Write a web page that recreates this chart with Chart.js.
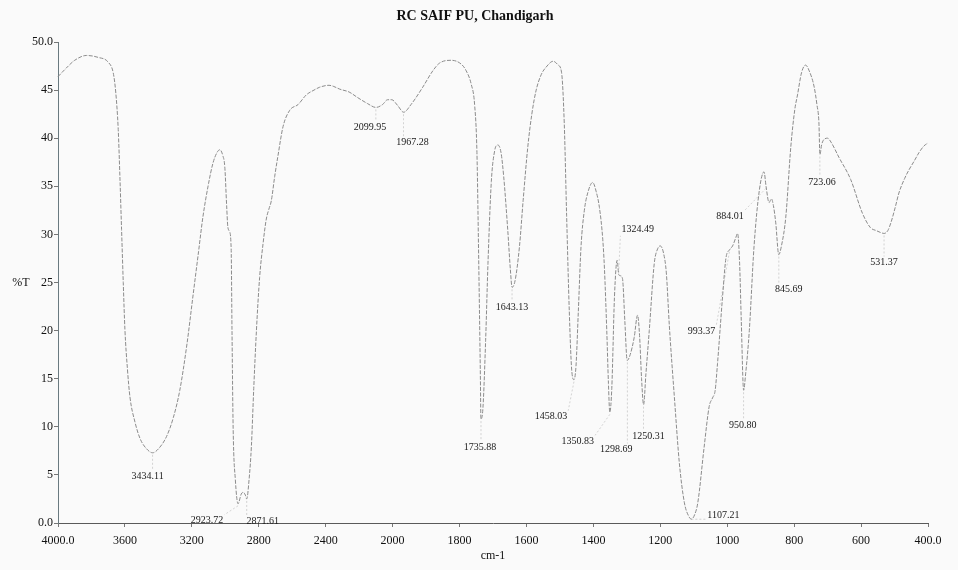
<!DOCTYPE html>
<html>
<head>
<meta charset="utf-8">
<script src="https://cdn.jsdelivr.net/npm/chart.js@4"></script>
<style>
  html, body { margin: 0; padding: 0; background: #fafafa; }
  #wrap { width: 958px; height: 570px; }
</style>
</head>
<body>
<div id="wrap"><canvas id="irChart" width="958" height="570"></canvas></div>
<script>

// spectrum: wavenumber (cm-1) and %T
const wavenumbers = [
    4000, 3950, 3900, 3830, 3760, 3700, 3670, 3655, 3640, 3630, 3620, 3610, 3600, 3585, 3570,
    3540, 3510, 3470, 3434, 3400, 3351, 3310, 3272, 3230, 3194, 3160, 3134, 3100, 3074, 3050,
    3033, 3015, 3003, 2992, 2985, 2975, 2965, 2960, 2953, 2940, 2924, 2905, 2894, 2880, 2872,
    2858, 2844, 2830, 2814, 2795, 2774, 2755, 2740, 2725, 2705, 2685, 2655, 2615, 2565, 2516,
    2470, 2436, 2380, 2355, 2316, 2260, 2207, 2150, 2100, 2060, 2030, 2005, 1985, 1967, 1945,
    1910, 1880, 1860, 1825, 1795, 1780, 1765, 1755, 1748, 1743, 1738, 1736, 1730, 1722, 1715,
    1705, 1695, 1686, 1676, 1668, 1656, 1648, 1643, 1634, 1621, 1610, 1596, 1584, 1571, 1556,
    1541, 1520, 1505, 1495, 1487, 1480, 1472, 1465, 1458, 1452, 1445, 1437, 1427, 1417, 1402,
    1392, 1382, 1372, 1367, 1360, 1355, 1351, 1345, 1337, 1329, 1324, 1319, 1313, 1306, 1299,
    1290, 1278, 1268, 1262, 1256, 1250, 1243, 1233, 1218, 1208, 1200, 1190, 1182, 1173, 1158,
    1143, 1128, 1115, 1107, 1097, 1088, 1069, 1054, 1044, 1036, 1029, 1014, 1004, 993, 984,
    975, 969, 963, 958, 951, 945, 934, 920, 904, 890, 884, 875, 868, 862, 855,
    846, 838, 825, 810, 798, 790, 778, 766, 755, 740, 732, 726, 723, 718, 710,
    700, 690, 666, 631, 596, 572, 555, 542, 531, 520, 511, 498, 487, 470, 457,
    440, 427, 412, 400
];
const transmittance = [
    46.4, 47.3, 48.1, 48.6, 48.4, 47.9, 46.8, 44.8, 40.9, 36.0, 30.5, 25.0, 20.1, 16.0, 13.1,
    10.5, 8.8, 7.7, 7.3, 7.7, 9.0, 11.0, 13.8, 18.5, 23.5, 28.2, 31.8, 35.3, 37.4, 38.5,
    38.8, 38.2, 37.0, 33.0, 30.8, 30.3, 28.5, 20.0, 9.7, 4.5, 2.0, 3.0, 3.2, 2.9, 2.5,
    4.5, 8.0, 14.0, 20.0, 25.5, 29.1, 31.6, 32.6, 33.5, 36.0, 38.2, 41.2, 42.9, 43.5, 44.5,
    45.0, 45.3, 45.5, 45.4, 45.1, 44.8, 44.2, 43.6, 43.2, 43.5, 44.0, 44.0, 43.4, 42.7, 43.5,
    45.3, 47.0, 47.8, 48.1, 47.7, 47.0, 45.6, 43.5, 38.5, 28.0, 16.0, 10.8, 12.0, 19.0, 27.0,
    35.5, 38.7, 39.3, 38.5, 36.0, 30.5, 26.3, 24.5, 25.2, 28.7, 33.5, 39.1, 42.5, 45.0, 46.6,
    47.4, 48.0, 47.6, 46.8, 41.5, 32.0, 22.0, 16.0, 14.9, 16.3, 22.0, 28.7, 32.5, 34.3, 35.4,
    34.5, 32.8, 29.5, 26.5, 20.0, 14.5, 11.5, 14.0, 23.5, 27.3, 25.8, 25.7, 25.4, 21.0, 16.9,
    17.5, 19.3, 21.6, 19.5, 15.0, 12.3, 15.5, 20.0, 27.0, 28.5, 28.8, 28.0, 26.0, 20.5, 13.1,
    6.2, 2.1, 0.7, 0.4, 0.9, 2.1, 7.9, 12.1, 13.0, 13.8, 16.6, 23.5, 27.5, 28.4, 28.8,
    29.6, 30.1, 27.0, 21.0, 13.8, 15.5, 20.0, 28.7, 34.6, 36.5, 35.0, 33.3, 33.7, 33.0, 31.2,
    27.9, 28.8, 31.8, 39.1, 43.0, 44.5, 46.8, 47.6, 47.0, 45.3, 43.5, 41.6, 38.3, 39.3, 39.9,
    40.0, 39.6, 38.0, 35.7, 32.2, 30.7, 30.4, 30.2, 30.1, 30.4, 31.2, 32.8, 34.3, 35.8, 36.7,
    37.7, 38.5, 39.2, 39.5
];

// picked peaks
const peakWn = [3434.11, 2923.72, 2871.61, 2099.95, 1967.28, 1735.88, 1643.13, 1458.03, 1350.83, 1324.49,
                1298.69, 1250.31, 1107.21, 993.37, 950.80, 884.01, 845.69, 723.06, 531.37];
const peakT = [7.3, 2.0, 2.5, 43.2, 42.7, 10.8, 24.5, 14.9, 11.5, 25.8,
               16.9, 12.3, 0.4, 28.4, 13.8, 35.0, 27.9, 38.3, 30.1];

// x tick positions (cm-1); the scale halves at 2000
const xTickWn = [4000, 3600, 3200, 2800, 2400, 2000, 1800, 1600, 1400, 1200, 1000, 800, 600, 400];

// label placement relative to the peak, in pixels
const peakLabelOffset = [[-5, 24], [-31, 17], [16, 22], [-6, 20], [9, 30], [-1, 28], [0, 20], [-23, 37], [-32, 29], [19, -45],
                         [-11, 89], [5, 32], [32, -4], [-28, 82], [-1, 35], [-36, 30], [10, 35], [2, 28], [0, 29]];

// wavenumber <-> axis units (400 cm-1 per unit above 2000, 200 below)
function toAxis(w) {
    return w >= 2000 ? (4000 - w) / 400 : 5 + (2000 - w) / 200;
}
function fromAxis(u) {
    return u <= 5 ? 4000 - 400 * u : 2000 - 200 * (u - 5);
}

const points = wavenumbers.map((w, i) => ({ x: toAxis(w), y: transmittance[i] }));

const serif = '"Liberation Serif", "DejaVu Serif", serif';

const paperPlugin = {
    id: 'paper',
    beforeDraw(chart) {
        const ctx = chart.ctx;
        ctx.save();
        ctx.fillStyle = '#fafafa';
        ctx.fillRect(0, 0, chart.width, chart.height);
        ctx.restore();
    },
    afterDraw(chart) {
        const ctx = chart.ctx;
        const xs = chart.scales.x, ys = chart.scales.y;
        ctx.save();
        // title
        ctx.fillStyle = '#111';
        ctx.font = 'bold 14px ' + serif;
        ctx.textAlign = 'center';
        ctx.textBaseline = 'middle';
        ctx.fillText('RC SAIF PU, Chandigarh', 475, 16);
        // axis titles
        ctx.font = '12px ' + serif;
        ctx.fillText('%T', 21, 283);
        ctx.fillText('cm-1', (xs.left + xs.right) / 2, 556);

        // peak labels with faint leaders
        ctx.font = '10px ' + serif;
        peakWn.forEach((w, i) => {
            const px = xs.getPixelForValue(toAxis(w));
            const py = ys.getPixelForValue(peakT[i]);
            const lx = px + peakLabelOffset[i][0];
            const ly = py + peakLabelOffset[i][1];
            const txt = w.toFixed(2);
            const tw = ctx.measureText(txt).width;
            const l = lx - tw / 2 - 1, r = lx + tw / 2 + 1, t = ly - 6, b = ly + 6;
            const ex = Math.min(Math.max(px, l), r);
            const ey = Math.min(Math.max(py, t), b);
            ctx.strokeStyle = 'rgba(140,140,140,0.5)';
            ctx.lineWidth = 0.7;
            ctx.setLineDash([2, 2]);
            ctx.beginPath();
            ctx.moveTo(px, py + (ey > py ? 2 : ey < py ? -2 : 0));
            ctx.lineTo(ex, ey);
            ctx.stroke();
            ctx.setLineDash([]);
            ctx.fillStyle = '#1a1a1a';
            ctx.fillText(txt, lx, ly);
        });
        ctx.restore();
    }
};

const config = {
    type: 'scatter',
    data: {
        datasets: [{
            data: points,
            showLine: true,
            borderColor: '#8c8c8c',
            borderWidth: 1,
            borderDash: [4, 1.5],
            pointRadius: 0,
            cubicInterpolationMode: 'monotone',
            clip: 6
        }]
    },
    options: {
        responsive: false,
        animation: false,
        layout: { padding: { top: 42, right: 30, left: 0, bottom: 0 } },
        plugins: { legend: { display: false }, tooltip: { enabled: false } },
        scales: {
            x: {
                type: 'linear',
                min: 0,
                max: 13,
                afterFit: s => { s.height = 47; },
                afterBuildTicks: s => { s.ticks = xTickWn.map(w => ({ value: toAxis(w) })); },
                border: { display: true, color: '#5a5a5a', width: 1 },
                grid: { drawOnChartArea: false, drawTicks: true, tickLength: 4, color: '#777' },
                ticks: {
                    autoSkip: false,
                    maxRotation: 0,
                    padding: 7,
                    color: '#111',
                    font: { family: serif, size: 12 },
                    callback: v => {
                        const w = Math.round(fromAxis(v));
                        return (w === 4000 || w === 400) ? w.toFixed(1) : String(w);
                    }
                }
            },
            y: {
                min: 0,
                max: 50,
                afterFit: s => { s.width = 58; },
                border: { display: true, color: '#6a7a80', width: 1 },
                grid: { drawOnChartArea: false, drawTicks: true, tickLength: 4, color: '#777' },
                ticks: {
                    stepSize: 5,
                    padding: 1,
                    color: '#111',
                    font: { family: serif, size: 12 },
                    callback: v => (v === 0 || v === 50) ? v.toFixed(1) : String(v)
                }
            }
        }
    },
    plugins: [paperPlugin]
};

const irChart = new Chart(document.getElementById('irChart'), config);
</script>
</body>
</html>
